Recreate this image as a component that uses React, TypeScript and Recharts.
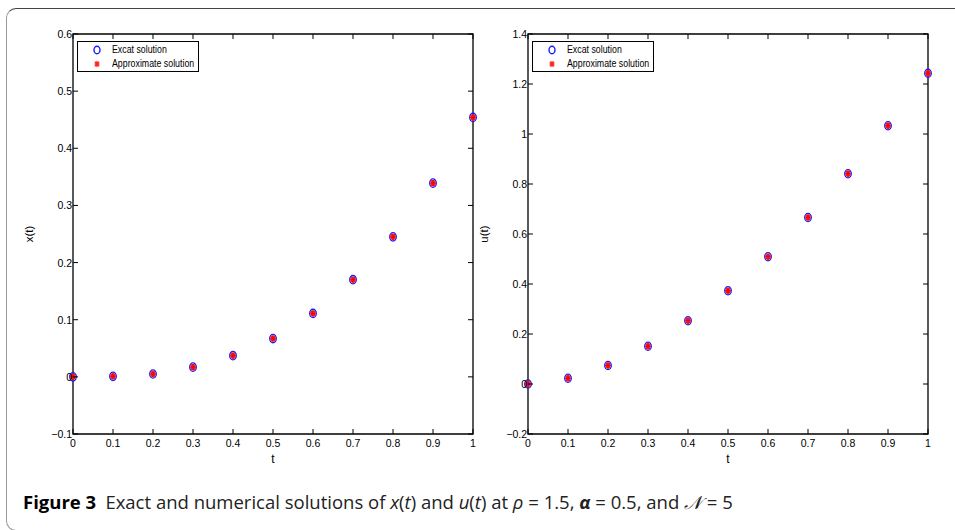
import React from "react";
import { ScatterChart, Scatter, XAxis, YAxis, ReferenceArea } from "recharts";

// t grid and solutions
const tValues = [0, 0.1, 0.2, 0.3, 0.4, 0.5, 0.6, 0.7, 0.8, 0.9, 1];
const xExact = [0, 0.001, 0.005, 0.017, 0.037, 0.067, 0.111, 0.17, 0.245, 0.339, 0.454];
const xApprox = [0, 0.001, 0.005, 0.017, 0.037, 0.067, 0.111, 0.17, 0.245, 0.339, 0.454];
const uExact = [0, 0.023, 0.074, 0.151, 0.253, 0.373, 0.509, 0.666, 0.841, 1.033, 1.243];
const uApprox = [0, 0.023, 0.074, 0.151, 0.253, 0.373, 0.509, 0.666, 0.841, 1.033, 1.243];

const tTicks = [0, 0.1, 0.2, 0.3, 0.4, 0.5, 0.6, 0.7, 0.8, 0.9, 1];
const xTicks = [-0.1, 0, 0.1, 0.2, 0.3, 0.4, 0.5, 0.6];
const uTicks = [-0.2, 0, 0.2, 0.4, 0.6, 0.8, 1, 1.2, 1.4];

const legendNames = ["Excat solution", "Approximate solution"];

const W = 480;
const H = 470;
const TOP = 34;
const LEFT = 73;
const RIGHT = 473;
const BOTTOM = 434;
const AXIS_FONT = "'Liberation Sans', Arial, Helvetica, sans-serif";

const toPoints = (ys: number[]) => tValues.map((t, i) => ({ t, v: ys[i] }));
const fmt = (v: number) => (v < 0 ? "\u2212" + String(-v) : String(v));

const BottomTick = (props: any) => {
  const { x, payload } = props;
  return (
    <g>
      <line x1={x} x2={x} y1={BOTTOM} y2={BOTTOM - 5} stroke="#000" />
      <line x1={x} x2={x} y1={TOP} y2={TOP + 5} stroke="#000" />
      <text x={x} y={447} textAnchor="middle" fontSize={10.5} fontFamily={AXIS_FONT} fill="#000">
        {fmt(payload.value)}
      </text>
    </g>
  );
};

const LeftTick = (props: any) => {
  const { y, payload } = props;
  return (
    <g>
      <line x1={LEFT} x2={LEFT + 5} y1={y} y2={y} stroke="#000" />
      <line x1={RIGHT} x2={RIGHT - 5} y1={y} y2={y} stroke="#000" />
      <text x={LEFT - 1} y={y + 4} textAnchor="end" fontSize={10.5} fontFamily={AXIS_FONT} fill="#000">
        {fmt(payload.value)}
      </text>
    </g>
  );
};

const ExactDot = (props: any) => (
  <ellipse cx={props.cx} cy={props.cy} rx={3.3} ry={4.2} fill="none" stroke="#1a1aff" strokeWidth={1.3} />
);

const ApproxDot = (props: any) => {
  const { cx, cy } = props;
  return (
    <g>
      <ellipse cx={cx} cy={cy} rx={2.7} ry={3.3} fill="#ff1a1a" />
      <line x1={cx - 2.5} x2={cx + 2.5} y1={cy} y2={cy} stroke="#e00000" strokeWidth={0.8} />
      <line x1={cx} x2={cx} y1={cy - 3} y2={cy + 3} stroke="#e00000" strokeWidth={0.8} />
    </g>
  );
};

const Legend = ({ left }: { left: number }) => (
  <div
    style={{
      position: "absolute",
      left,
      top: 41,
      width: 122,
      height: 31,
      border: "1.2px solid #000",
      background: "#fff",
      fontFamily: AXIS_FONT,
      fontSize: 10,
      lineHeight: "14px",
      boxSizing: "border-box",
      paddingTop: 1,
    }}
  >
    {legendNames.map((name, i) => (
      <div key={name} style={{ display: "flex", alignItems: "center", height: 14, whiteSpace: "nowrap" }}>
        <svg width={34} height={14} style={{ flex: "none" }}>
          {i === 0 ? (
            <ellipse cx={19} cy={7} rx={3} ry={3.8} fill="none" stroke="#1a1aff" strokeWidth={1.4} />
          ) : (
            <g stroke="#ff1a1a" strokeWidth={1.3}>
              <line x1={16.5} x2={21.5} y1={7} y2={7} />
              <line x1={19} x2={19} y1={4} y2={10} />
              <line x1={17} x2={21} y1={4.8} y2={9.2} />
              <line x1={21} x2={17} y1={4.8} y2={9.2} />
            </g>
          )}
        </svg>
        <span style={{ display: "inline-block", transform: "scaleX(0.88)", transformOrigin: "0 50%" }}>
          {name}
        </span>
      </div>
    ))}
  </div>
);

const Panel = ({
  left,
  exact,
  approx,
  ticks,
  domain,
  yLabel,
}: {
  left: number;
  exact: number[];
  approx: number[];
  ticks: number[];
  domain: [number, number];
  yLabel: string;
}) => (
  <div style={{ position: "absolute", left, top: 0, width: W, height: H }}>
    <ScatterChart width={W} height={H} margin={{ top: TOP, right: W - RIGHT, bottom: 0, left: 0 }}>
      <XAxis
        type="number"
        dataKey="t"
        domain={[0, 1]}
        ticks={tTicks}
        interval={0}
        height={H - BOTTOM}
        axisLine={false}
        tickLine={false}
        tick={<BottomTick />}
        label={() => (
          <text x={273} y={463} textAnchor="middle" fontSize={12} fontFamily={AXIS_FONT} fill="#000">
            t
          </text>
        )}
      />
      <YAxis
        type="number"
        dataKey="v"
        domain={domain}
        ticks={ticks}
        interval={0}
        width={LEFT}
        axisLine={false}
        tickLine={false}
        tick={<LeftTick />}
        label={() => (
          <text
            x={33}
            y={234}
            transform="rotate(-90 33 234)"
            textAnchor="middle"
            fontSize={11.5}
            fontFamily={AXIS_FONT}
            fill="#000"
          >
            {yLabel}
          </text>
        )}
      />
      <ReferenceArea x1={0} x2={1} y1={domain[0]} y2={domain[1]} fill="none" stroke="#000" strokeWidth={1.3} />
      <Scatter data={toPoints(exact)} shape={<ExactDot />} isAnimationActive={false} />
      <Scatter data={toPoints(approx)} shape={<ApproxDot />} isAnimationActive={false} />
    </ScatterChart>
    <Legend left={77} />
  </div>
);

export default function App() {
  return (
    <div
      style={{
        position: "absolute",
        left: 0,
        top: 0,
        width: 955,
        height: 530,
        overflow: "hidden",
        background: "#fff",
      }}
    >
      <div
        style={{
          position: "absolute",
          left: 6,
          top: 8,
          width: 1000,
          height: 521,
          borderTop: "1.5px solid #444",
          borderLeft: "1.5px solid #999",
          borderBottom: "1.5px solid #999",
          borderRadius: 10,
        }}
      />
      <Panel left={0} exact={xExact} approx={xApprox} ticks={xTicks} domain={[-0.1, 0.6]} yLabel="x(t)" />
      <Panel left={455} exact={uExact} approx={uApprox} ticks={uTicks} domain={[-0.2, 1.4]} yLabel="u(t)" />
      <div
        style={{
          position: "absolute",
          left: 23,
          top: 492,
          fontFamily: "'Open Sans', 'Noto Sans', sans-serif",
          fontSize: 18.5,
          lineHeight: "19px",
          color: "#222",
          whiteSpace: "nowrap",
          letterSpacing: 0,
        }}
      >
        <b style={{ color: "#000" }}>Figure 3</b>
        {"\u2002Exact and numerical solutions of "}
        <i>x</i>(<i>t</i>) and <i>u</i>(<i>t</i>) at <i>ρ</i> = 1.5, <b><i>α</i></b> = 0.5, and <i>𝒩</i> = 5
      </div>
    </div>
  );
}
